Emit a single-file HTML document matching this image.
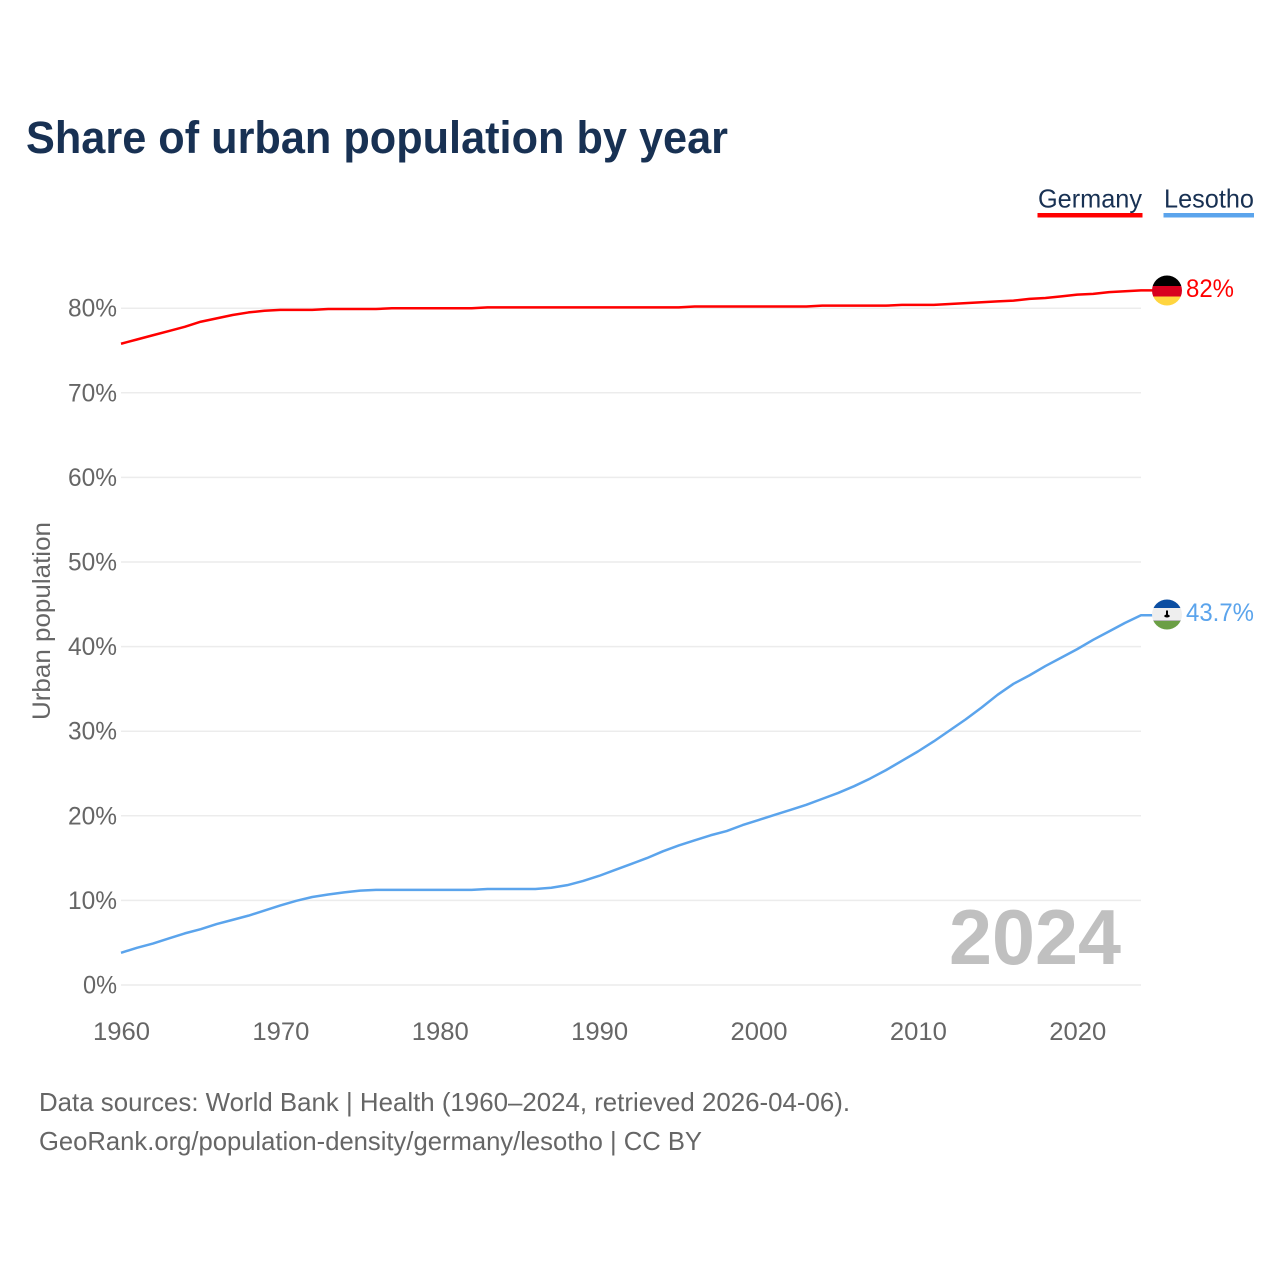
<!DOCTYPE html>
<html lang="en">
<head>
<meta charset="utf-8">
<title>Share of urban population by year</title>
<style>
html,body{margin:0;padding:0;background:#fff;width:1280px;height:1280px;overflow:hidden}
svg{display:block;font-family:"Liberation Sans",sans-serif}
</style>
</head>
<body>
<svg id="chart" width="1280" height="1280" viewBox="0 0 1280 1280" xmlns="http://www.w3.org/2000/svg">
  <defs>
    <clipPath id="clip-de"><circle cx="1167" cy="290.5" r="15"/></clipPath>
    <clipPath id="clip-ls"><circle cx="1167" cy="614.5" r="15"/></clipPath>
  </defs>
  <rect width="1280" height="1280" fill="#fff"/>
  <text x="26" y="153" font-size="45" font-weight="700" fill="#183153" textLength="702" lengthAdjust="spacingAndGlyphs">Share of urban population by year</text>

  <g>
    <text x="1038" y="207.5" font-size="26" fill="#183153" textLength="104" lengthAdjust="spacingAndGlyphs">Germany</text>
    <rect x="1037.5" y="213" width="105" height="4.5" fill="#ff0000"/>
  </g>
  <g>
    <text x="1164" y="207.5" font-size="26" fill="#183153" textLength="90" lengthAdjust="spacingAndGlyphs">Lesotho</text>
    <rect x="1163.5" y="213" width="90.5" height="4.5" fill="#5ba4ec"/>
  </g>

  <text transform="translate(50,720) rotate(-90)" font-size="25" fill="#666" textLength="198" lengthAdjust="spacingAndGlyphs">Urban population</text>

  <g id="grid"></g>
  <g id="yticks"></g>
  <g id="xticks"></g>

  <text x="949" y="964" font-size="78" font-weight="700" fill="#c0c0c0" textLength="172" lengthAdjust="spacingAndGlyphs">2024</text>

  <g id="series"></g>

  <g clip-path="url(#clip-de)">
    <rect x="1150" y="274" width="34" height="12" fill="#000"/>
    <rect x="1150" y="286" width="34" height="10.5" fill="#d8001f"/>
    <rect x="1150" y="296.5" width="34" height="11" fill="#ffd53f"/>
  </g>
  <g clip-path="url(#clip-ls)">
    <rect x="1150" y="598" width="34" height="10" fill="#0b4ea2"/>
    <rect x="1150" y="608" width="34" height="13" fill="#eeeeee"/>
    <rect x="1150" y="620" width="34" height="1.5" fill="#b5b5b5"/>
    <rect x="1150" y="621" width="34" height="10" fill="#6b9f45"/>
    <rect x="1166" y="610.5" width="2" height="5" fill="#000"/>
    <ellipse cx="1167" cy="616" rx="2.8" ry="1.5" fill="#000"/>
  </g>

  <text x="1186" y="297" font-size="25" fill="#ff0000" textLength="48" lengthAdjust="spacingAndGlyphs">82%</text>
  <text x="1186" y="621" font-size="25" fill="#5ba4ec" textLength="68" lengthAdjust="spacingAndGlyphs">43.7%</text>

  <text x="39" y="1111" font-size="26" fill="#666" textLength="811" lengthAdjust="spacingAndGlyphs">Data sources: World Bank | Health (1960–2024, retrieved 2026-04-06).</text>
  <text x="39" y="1150" font-size="26" fill="#666" textLength="663" lengthAdjust="spacingAndGlyphs">GeoRank.org/population-density/germany/lesotho | CC BY</text>
</svg>
<script>
const firstYear = 1960;
const germanyValues = [75.8,76.3,76.8,77.3,77.8,78.4,78.8,79.2,79.5,79.7,79.8,79.8,79.8,79.9,79.9,79.9,79.9,80.0,80.0,80.0,80.0,80.0,80.0,80.1,80.1,80.1,80.1,80.1,80.1,80.1,80.1,80.1,80.1,80.1,80.1,80.1,80.2,80.2,80.2,80.2,80.2,80.2,80.2,80.2,80.3,80.3,80.3,80.3,80.3,80.4,80.4,80.4,80.5,80.6,80.7,80.8,80.9,81.1,81.2,81.4,81.6,81.7,81.9,82.0,82.1];
const lesothoValues = [3.8,4.4,4.9,5.5,6.1,6.6,7.2,7.7,8.2,8.8,9.4,9.95,10.4,10.7,10.95,11.15,11.25,11.25,11.25,11.25,11.25,11.25,11.25,11.35,11.35,11.35,11.35,11.5,11.8,12.3,12.9,13.6,14.3,15.0,15.8,16.5,17.1,17.7,18.2,18.9,19.5,20.1,20.7,21.3,22.0,22.7,23.5,24.4,25.4,26.5,27.6,28.8,30.1,31.4,32.8,34.3,35.6,36.6,37.7,38.7,39.7,40.8,41.8,42.8,43.7];
const yTickValues = [0,10,20,30,40,50,60,70,80];
const xTickValues = [1960,1970,1980,1990,2000,2010,2020];

const NS = 'http://www.w3.org/2000/svg';
function xScale(year){ return 121 + (year - 1960) * (1141 - 121) / 64; }
function yScale(value){ return 985 - value * 8.46; }

const grid = document.getElementById('grid');
const yticks = document.getElementById('yticks');
const xticks = document.getElementById('xticks');
const series = document.getElementById('series');

yTickValues.forEach(function(v){
  const line = document.createElementNS(NS, 'line');
  line.setAttribute('x1', 121);
  line.setAttribute('x2', 1141);
  line.setAttribute('y1', yScale(v));
  line.setAttribute('y2', yScale(v));
  line.setAttribute('stroke', '#ececec');
  line.setAttribute('stroke-width', '1.5');
  
  
  grid.appendChild(line);

  const t = document.createElementNS(NS, 'text');
  const label = v + '%';
  t.textContent = label;
  t.setAttribute('x', 117);
  t.setAttribute('y', yScale(v) + 8.5);
  t.setAttribute('text-anchor', 'end');
  t.setAttribute('font-size', '25');
  t.setAttribute('fill', '#666');
  t.setAttribute('textLength', v === 0 ? 34 : 49);
  t.setAttribute('lengthAdjust', 'spacingAndGlyphs');
  
  
  yticks.appendChild(t);
});

xTickValues.forEach(function(y){
  const t = document.createElementNS(NS, 'text');
  t.textContent = String(y);
  t.setAttribute('x', xScale(y) + 0.5);
  t.setAttribute('y', 1040);
  t.setAttribute('text-anchor', 'middle');
  t.setAttribute('font-size', '25');
  t.setAttribute('fill', '#666');
  t.setAttribute('textLength', 57);
  t.setAttribute('lengthAdjust', 'spacingAndGlyphs');
  
  
  xticks.appendChild(t);
});

function pathFor(values){
  const pts = values.map(function(v, i){
    return xScale(firstYear + i).toFixed(2) + ',' + yScale(v).toFixed(2);
  });
  pts.push('1153,' + yScale(values[values.length - 1]).toFixed(2));
  return 'M' + pts.join('L');
}

const germanyLine = document.createElementNS(NS, 'path');
germanyLine.setAttribute('d', pathFor(germanyValues));
germanyLine.setAttribute('fill', 'none');
germanyLine.setAttribute('stroke', '#ff0000');
germanyLine.setAttribute('stroke-width', '2.5');
germanyLine.setAttribute('stroke-linejoin', 'round');


series.appendChild(germanyLine);

const lesothoLine = document.createElementNS(NS, 'path');
lesothoLine.setAttribute('d', pathFor(lesothoValues));
lesothoLine.setAttribute('fill', 'none');
lesothoLine.setAttribute('stroke', '#5ba4ec');
lesothoLine.setAttribute('stroke-width', '2.5');
lesothoLine.setAttribute('stroke-linejoin', 'round');


series.appendChild(lesothoLine);
</script>
</body>
</html>
